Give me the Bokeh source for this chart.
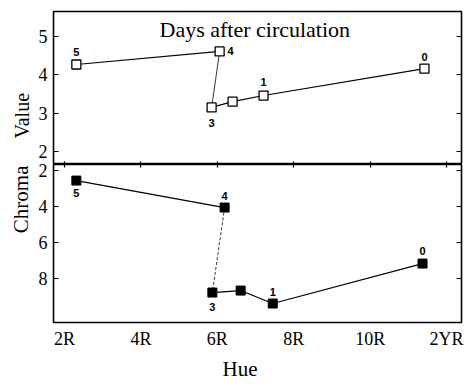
from bokeh.plotting import figure
from bokeh.models import Range1d, LinearAxis, FixedTicker, Label, Title, ColumnDataSource
from bokeh.layouts import column
from bokeh.core.properties import value
from bokeh.embed import file_html
from bokeh.resources import INLINE

# ---- data ----
hue_ticks = [2, 4, 6, 8, 10, 12]
hue_tick_labels = ["2R", "4R", "6R", "8R", "10R", "2YR"]
value_ticks = [2, 3, 4, 5]
chroma_ticks = [2, 4, 6, 8]

days = ["5", "4", "3", "", "1", "0"]
value_hue = [2.31, 6.06, 5.85, 6.40, 7.21, 11.42]
value_val = [4.27, 4.61, 3.15, 3.30, 3.46, 4.16]
chroma_hue = [2.31, 6.19, 5.87, 6.61, 7.45, 11.37]
chroma_val = [2.56, 4.06, 8.78, 8.67, 9.39, 7.17]

# ---- styling ----
SERIF = "Liberation Serif"
SANS = "Liberation Sans"
x_range = Range1d(1.712, 12.39)


def style_fig(p):
    p.outline_line_color = "black"
    p.outline_line_width = 1.6
    p.xgrid.visible = False
    p.ygrid.visible = False


def style_axis(ax, labels=True):
    ax.axis_line_color = None
    ax.major_tick_in = 5
    ax.major_tick_out = 0
    ax.minor_tick_line_color = None
    ax.major_tick_line_width = 1.2
    ax.major_tick_line_color = "black"
    ax.major_label_text_font = SERIF
    ax.major_label_text_font_size = "18px"
    ax.major_label_text_color = "black"
    ax.major_label_standoff = 6
    if not labels:
        ax.major_label_text_font_size = "0px"
        ax.major_label_standoff = 0


def side_title(text, align, offset, size, standoff):
    return Title(text=text, align=align, offset=offset, text_font=SERIF,
                 text_font_size=size, text_font_style="normal",
                 text_color="black", standoff=standoff)


# ---- top panel: Value ----
p1 = figure(frame_width=408, frame_height=153, x_range=x_range,
            y_range=Range1d(1.661, 5.652), output_backend="svg",
            toolbar_location=None, min_border_left=53, min_border_right=4,
            min_border_top=11, min_border_bottom=0, x_axis_location=None,
            y_axis_location=None)
style_fig(p1)
ly1 = LinearAxis(ticker=FixedTicker(ticks=value_ticks))
style_axis(ly1)
p1.add_layout(ly1, "left")
p1.add_layout(side_title("Value", "left", 26, "20px", 6), "left")
ry1 = LinearAxis(ticker=FixedTicker(ticks=value_ticks))
style_axis(ry1, labels=False)
p1.add_layout(ry1, "right")
bx1 = LinearAxis(ticker=FixedTicker(ticks=hue_ticks))
style_axis(bx1, labels=False)
bx1.major_tick_in = 3
p1.add_layout(bx1, "below")

p1.line(value_hue[0:2], value_val[0:2], line_color="black", line_width=1.2)
p1.line(value_hue[1:3], value_val[1:3], line_color="black", line_width=0.8)
p1.line(value_hue[2:], value_val[2:], line_color="black", line_width=1.2)
p1.scatter(value_hue, value_val, marker="square", size=9, fill_color="white",
           line_color="black", line_width=1.3)

top_dx = [0, 11, 0, 0, 0, 0]
top_dy = [-12, 0, 16, 0, -14, -12]
src1 = ColumnDataSource(dict(x=value_hue, y=value_val, t=days, dx=top_dx, dy=top_dy))
p1.text("x", "y", "t", source=src1, x_offset="dx", y_offset="dy",
        text_font=value(SANS), text_font_size="11px", text_font_style="bold",
        text_align="center", text_baseline="middle", text_color="black")

p1.add_layout(Label(x=6.98, y=5.17, text="Days after circulation",
                    text_font=SERIF, text_font_size="22px", text_color="black",
                    text_align="center", text_baseline="middle"))

# ---- bottom panel: Chroma ----
p2 = figure(frame_width=408, frame_height=158, x_range=x_range,
            y_range=Range1d(10.444, 1.667), output_backend="svg",
            toolbar_location=None, min_border_left=53, min_border_right=4,
            min_border_top=4, min_border_bottom=40, x_axis_location=None,
            y_axis_location=None)
style_fig(p2)
p2.border_fill_color = None
p2.styles = {"margin-top": "-4px"}
ly2 = LinearAxis(ticker=FixedTicker(ticks=chroma_ticks))
style_axis(ly2)
p2.add_layout(ly2, "left")
p2.add_layout(side_title("Chroma", "right", 1, "21px", 6), "left")
ry2 = LinearAxis(ticker=FixedTicker(ticks=chroma_ticks))
style_axis(ry2, labels=False)
p2.add_layout(ry2, "right")
ax2 = LinearAxis(ticker=FixedTicker(ticks=hue_ticks))
style_axis(ax2, labels=False)
ax2.major_tick_in = 3
p2.add_layout(ax2, "above")
bx2 = LinearAxis(ticker=FixedTicker(ticks=hue_ticks))
style_axis(bx2)
bx2.major_tick_in = 0
bx2.major_label_standoff = 6
bx2.major_label_overrides = {t: l for t, l in zip(hue_ticks, hue_tick_labels)}
p2.add_layout(bx2, "below")
p2.add_layout(side_title("Hue", "left", 169, "21px", 6), "below")

p2.line(chroma_hue[0:2], chroma_val[0:2], line_color="black", line_width=1.2)
p2.line(chroma_hue[1:3], chroma_val[1:3], line_color="black", line_width=0.8,
        line_dash="3 2")
p2.line(chroma_hue[2:], chroma_val[2:], line_color="black", line_width=1.2)
p2.scatter(chroma_hue, chroma_val, marker="square", size=9, fill_color="black",
           line_color="black")

bot_dx = [0, 0, 0, 0, 0, 0]
bot_dy = [12, -12, 14, 0, -12, -13]
src2 = ColumnDataSource(dict(x=chroma_hue, y=chroma_val, t=days, dx=bot_dx, dy=bot_dy))
p2.text("x", "y", "t", source=src2, x_offset="dx", y_offset="dy",
        text_font=value(SANS), text_font_size="11px", text_font_style="bold",
        text_align="center", text_baseline="middle", text_color="black")

layout = column(p1, p2, spacing=0)
open("out.html", "w").write(file_html(layout, INLINE))
